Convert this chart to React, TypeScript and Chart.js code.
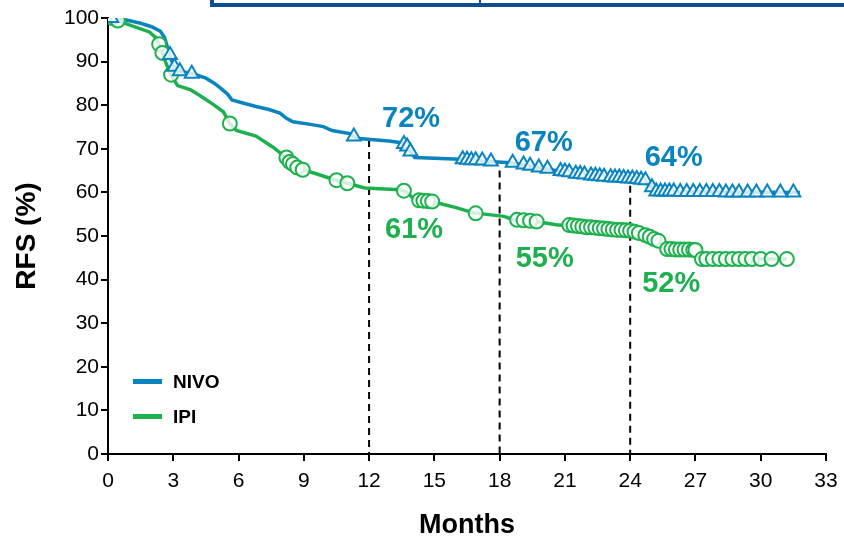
import { useEffect, useRef } from 'react';
import { Chart, registerables } from 'chart.js';

Chart.register(...registerables);

// ---- Data (curve vertices: month, RFS %) ----
const nivoMonths = [0, 0.8, 1.5, 2.0, 2.4, 2.6, 2.75, 2.9, 3.05, 3.3, 3.9, 4.5, 4.9, 5.2, 5.5, 5.7, 6.2, 6.8, 7.4, 7.9, 8.2, 8.5, 9.3, 9.9, 10.3, 11.1, 11.4, 12.9, 13.5, 13.8, 14.1, 16.2, 17.5, 18.5, 19.2, 19.8, 20.5, 21.2, 22.0, 23.0, 24.0, 24.6, 24.9, 25.2, 31.8];
const nivoRfs = [100, 99.6, 98.8, 98, 97, 95.5, 93, 90.5, 88.8, 87.8, 87.2, 86.2, 85, 83.8, 82.5, 81.2, 80.5, 79.7, 79, 78.2, 77, 76.2, 75.6, 75.1, 74.2, 73.5, 72.4, 71.8, 71.4, 70, 68, 67.6, 67.1, 66.8, 66.2, 65.7, 65.1, 64.5, 64, 63.5, 63.2, 62.8, 61.5, 60.2, 60];

const ipiMonths = [0, 0.5, 1.2, 1.9, 2.2, 2.4, 2.6, 2.8, 2.95, 3.2, 3.8, 4.2, 4.8, 5.3, 5.6, 5.9, 6.8, 7.6, 8.1, 8.4, 8.7, 9.0, 9.5, 10.4, 10.9, 11.8, 13.4, 13.7, 14.1, 15.2, 16.0, 16.8, 18.2, 18.6, 19.8, 20.6, 22.0, 23.0, 24.0, 24.6, 25.0, 25.4, 25.6, 27.0, 27.2, 31.2];
const ipiRfs = [100, 99.3, 98, 96.8, 95.5, 93.5, 90.5, 88, 86.5, 84.5, 83.5, 82.3, 80.3, 78.5, 75.8, 74.2, 72.9, 70.3, 68.3, 66.8, 65.7, 65.1, 64.4, 62.9, 62.2, 61, 60.6, 60.2, 58.3, 57.5, 56.5, 55.3, 54.5, 53.8, 53.2, 52.6, 52, 51.6, 51.2, 50.4, 49.6, 48.6, 47, 46.8, 44.7, 44.7];

const nivoCensorMonths = [0.15, 2.85, 3.05, 3.3, 3.85, 11.3, 13.6, 13.75, 13.9, 16.3, 16.5, 16.7, 16.9, 17.2, 17.6, 18.6, 19.1, 19.4, 19.8, 20.2, 20.8, 21.0, 21.2, 21.5, 21.7, 21.9, 22.2, 22.4, 22.6, 22.8, 23.1, 23.3, 23.5, 23.7, 23.9, 24.1, 24.3, 24.5, 24.7, 25.0, 25.2, 25.4, 25.6, 25.8, 26.0, 26.3, 26.6, 26.9, 27.2, 27.5, 27.8, 28.1, 28.4, 28.7, 29.0, 29.4, 29.8, 30.3, 30.9, 31.5];
const nivoCensorRfs = [100, 91.5, 88.8, 87.8, 87.2, 72.8, 71.1, 70.5, 69.4, 67.6, 67.5, 67.4, 67.4, 67.3, 67.1, 66.8, 66.4, 66.1, 65.7, 65.4, 64.9, 64.8, 64.6, 64.3, 64.2, 64.1, 63.9, 63.8, 63.7, 63.6, 63.5, 63.4, 63.4, 63.3, 63.2, 63.2, 63.1, 62.9, 62.8, 61.2, 60.2, 60.2, 60.2, 60.2, 60.2, 60.1, 60.1, 60.1, 60.1, 60.1, 60.1, 60.1, 60, 60, 60, 60, 60, 60, 60, 60];

const ipiCensorMonths = [0.2, 0.45, 2.35, 2.5, 2.9, 5.6, 8.2, 8.35, 8.5, 8.7, 8.95, 10.5, 11.0, 13.6, 14.3, 14.5, 14.7, 14.9, 16.9, 18.8, 19.1, 19.4, 19.7, 21.2, 21.4, 21.6, 21.8, 22.0, 22.2, 22.4, 22.6, 22.8, 23.0, 23.2, 23.4, 23.6, 23.8, 24.0, 24.2, 24.4, 24.7, 24.9, 25.1, 25.3, 25.7, 25.9, 26.1, 26.3, 26.5, 26.7, 26.9, 27.0, 27.3, 27.5, 27.8, 28.1, 28.4, 28.7, 29.0, 29.3, 29.6, 30.0, 30.5, 31.2];
const ipiCensorRfs = [100, 99.4, 94, 92, 87, 75.8, 68.0, 67.0, 66.5, 65.7, 65.2, 62.8, 62.1, 60.4, 58.2, 58.1, 58.0, 57.9, 55.2, 53.7, 53.6, 53.5, 53.3, 52.5, 52.4, 52.3, 52.2, 52, 52, 51.9, 51.8, 51.7, 51.6, 51.5, 51.4, 51.4, 51.3, 51.2, 51.0, 50.7, 50.2, 49.8, 49.3, 48.9, 47, 47, 46.9, 46.9, 46.9, 46.9, 46.8, 46.8, 44.7, 44.7, 44.7, 44.7, 44.7, 44.7, 44.7, 44.7, 44.7, 44.7, 44.7, 44.7];

const landmarkMonths = [12, 18, 24];
const landmarkTops = [72, 65, 61.5];
const nivoLandmarkPct = [72, 67, 64];
const ipiLandmarkPct = [61, 55, 52];

const xTickValues = [0, 3, 6, 9, 12, 15, 18, 21, 24, 27, 30, 33];
const yTickValues = [0, 10, 20, 30, 40, 50, 60, 70, 80, 90, 100];

const seriesNames = ['NIVO', 'IPI'];

// ---- Styles ----
const NIVO_COLOR = '#0A84BF';
const IPI_COLOR = '#1EB04E';
const BOX_COLOR = '#0E4D8E';
const FONT = '"Liberation Sans", Arial, Helvetica, sans-serif';

const pairs = (xs: number[], ys: number[]) => xs.map((x, i) => ({ x, y: ys[i] }));

const annotationsPlugin = {
  id: 'annotations',
  beforeDraw(chart: any) {
    const { ctx } = chart;
    ctx.save();
    ctx.strokeStyle = BOX_COLOR;
    ctx.lineWidth = 4;
    ctx.strokeRect(212, -20, 700, 25);
    ctx.lineWidth = 2;
    ctx.beginPath();
    ctx.moveTo(480, 0);
    ctx.lineTo(480, 5);
    ctx.stroke();
    ctx.restore();
  },
  afterDraw(chart: any) {
    const { ctx, chartArea } = chart;
    const x = chart.scales.x;
    const y = chart.scales.y;
    ctx.save();
    ctx.font = `bold 29px ${FONT}`;
    ctx.textAlign = 'left';
    ctx.textBaseline = 'alphabetic';
    const nivoDx = [13, 15, 14.5];
    const nivoDy = [-13.4, -11.2, -9.3];
    const ipiDx = [16, 16, 12];
    const ipiDy = [50.3, 53.1, 64.4];
    landmarkMonths.forEach((m, i) => {
      const px = x.getPixelForValue(m);
      ctx.fillStyle = NIVO_COLOR;
      ctx.fillText(`${nivoLandmarkPct[i]}%`, px + nivoDx[i], y.getPixelForValue(nivoLandmarkPct[i]) + nivoDy[i]);
      ctx.fillStyle = IPI_COLOR;
      ctx.fillText(`${ipiLandmarkPct[i]}%`, px + ipiDx[i], y.getPixelForValue(ipiLandmarkPct[i]) + ipiDy[i]);
    });
    // legend
    const colors = [NIVO_COLOR, IPI_COLOR];
    const rowY = [chartArea.bottom - 72.5, chartArea.bottom - 37.5];
    ctx.font = `bold 19px ${FONT}`;
    ctx.textBaseline = 'middle';
    seriesNames.forEach((name, i) => {
      ctx.fillStyle = colors[i];
      ctx.fillRect(chartArea.left + 25, rowY[i] - 2.5, 29, 5);
      ctx.fillStyle = '#000';
      ctx.fillText(name, chartArea.left + 65, rowY[i] + 1);
    });
    ctx.restore();
  },
};

export default function App() {
  const canvasRef = useRef<HTMLCanvasElement | null>(null);

  useEffect(() => {
    if (!canvasRef.current) return;
    Chart.defaults.font.family = FONT;
    const datasets: any[] = [
      {
        label: seriesNames[1] + ' censored',
        data: pairs(ipiCensorMonths, ipiCensorRfs),
        showLine: false,
        pointStyle: 'circle',
        pointRadius: 7,
        pointBorderWidth: 2,
        pointBorderColor: IPI_COLOR,
        pointBackgroundColor: 'rgba(255,255,255,0.8)',
        order: 1,
      },
      {
        label: seriesNames[0] + ' censored',
        data: pairs(nivoCensorMonths, nivoCensorRfs),
        showLine: false,
        pointStyle: 'triangle',
        pointRadius: 8,
        pointBorderWidth: 2,
        pointBorderColor: NIVO_COLOR,
        pointBackgroundColor: 'rgba(255,255,255,0.8)',
        order: 0,
      },
      {
        label: seriesNames[0],
        data: pairs(nivoMonths, nivoRfs),
        borderColor: NIVO_COLOR,
        borderWidth: 3.5,
        pointRadius: 0,
        tension: 0,
        order: 3,
      },
      {
        label: seriesNames[1],
        data: pairs(ipiMonths, ipiRfs),
        borderColor: IPI_COLOR,
        borderWidth: 3.5,
        pointRadius: 0,
        tension: 0,
        order: 2,
      },
      ...landmarkMonths.map((m, i) => ({
        label: `landmark ${m}`,
        data: [
          { x: m, y: landmarkTops[i] },
          { x: m, y: 0 },
        ],
        borderColor: '#000',
        borderWidth: 2,
        borderDash: [7, 5],
        pointRadius: 0,
        order: 4,
      })),
    ];

    const chart = new Chart(canvasRef.current, {
      type: 'line',
      data: { datasets },
      plugins: [annotationsPlugin],
      options: {
        animation: false,
        responsive: false,
        maintainAspectRatio: false,
        layout: { padding: { left: 0, right: 18, top: 18, bottom: 0 } },
        plugins: { legend: { display: false }, tooltip: { enabled: false } },
        scales: {
          x: {
            type: 'linear',
            min: 0,
            max: 33,
            afterBuildTicks: (s: any) => {
              s.ticks = xTickValues.map((v) => ({ value: v }));
            },
            afterFit: (s: any) => {
              s.height = 83;
            },
            grid: { drawOnChartArea: false, drawTicks: true, tickLength: 7, color: '#000', lineWidth: 2 },
            border: { display: true, color: '#000', width: 2 },
            ticks: { color: '#000', font: { size: 21, lineHeight: 1.6 }, padding: 3, maxRotation: 0, autoSkip: false },
            title: {
              display: true,
              text: 'Months',
              color: '#000',
              font: { size: 27, weight: 'bold', lineHeight: 1 },
              padding: { top: 0, bottom: -2 },
            },
          },
          y: {
            type: 'linear',
            min: 0,
            max: 100,
            afterBuildTicks: (s: any) => {
              s.ticks = yTickValues.map((v) => ({ value: v }));
            },
            afterFit: (s: any) => {
              s.width = 108;
            },
            grid: { drawOnChartArea: false, drawTicks: true, tickLength: 7, color: '#000', lineWidth: 2 },
            border: { display: true, color: '#000', width: 2 },
            ticks: { color: '#000', font: { size: 21 }, padding: 2, autoSkip: false },
            title: {
              display: true,
              text: 'RFS (%)',
              color: '#000',
              font: { size: 28, weight: 'bold', lineHeight: 1 },
              padding: { top: 13, bottom: 0 },
            },
          },
        },
      } as any,
    });
    return () => chart.destroy();
  }, []);

  return (
    <div style={{ position: 'absolute', left: 0, top: 0, width: 844, height: 537, background: '#fff' }}>
      <canvas ref={canvasRef} width={844} height={537} style={{ display: 'block', width: 844, height: 537 }} />
    </div>
  );
}
